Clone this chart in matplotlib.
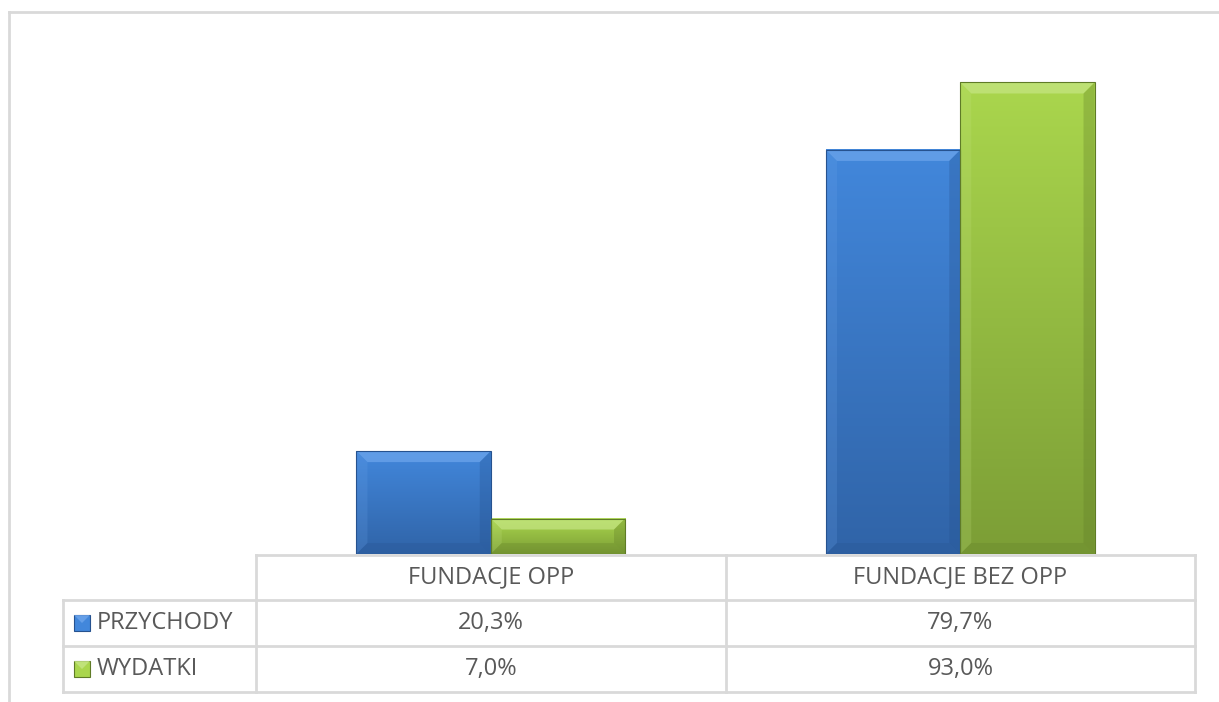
#bar chart with data table (fundacje OPP vs bez OPP)

#import packages
import numpy as np
import matplotlib.pyplot as plt
from matplotlib.patches import Polygon
from matplotlib.lines import Line2D

#data
categories = ['FUNDACJE OPP', 'FUNDACJE BEZ OPP']
series_names = ['PRZYCHODY', 'WYDATKI']
przychody = [20.3, 79.7]
wydatki = [7.0, 93.0]
przychody_labels = ['20,3%', '79,7%']
wydatki_labels = ['7,0%', '93,0%']

#styles
W, H = 1219, 702
grid_col = '#d9d9d9'
text_col = '#595959'
face = {'PRZYCHODY': ('#4287db', '#3064a8'), 'WYDATKI': ('#aad64d', '#7c9e36')}
light = {'PRZYCHODY': '#6ea6ec', 'WYDATKI': '#c6e685'}
dark = {'PRZYCHODY': '#26528f', 'WYDATKI': '#5f7b27'}
plt.rcParams['font.family'] = ['Open Sans', 'DejaVu Sans']

fig = plt.figure(figsize=(W / 100, H / 100), dpi=100)

def fx(px):
    return px / W

def fy(py):
    return 1 - py / H

#outer frame (only top and left visible)
fig.add_artist(Line2D([fx(9), 1], [fy(12), fy(12)], color=grid_col, lw=2))
fig.add_artist(Line2D([fx(9), fx(9)], [fy(12), 0], color=grid_col, lw=2))

#plot area
ax = fig.add_axes([fx(256), fy(554), fx(1195) - fx(256), fy(47) - fy(554)])
ax.set_xlim(-0.5, 1.5)
ax.set_ylim(0, 100)
ax.axis('off')

bar_w = 0.286
bev_px = 11
px_x = (1195 - 256) / 2.0   # pixels per x unit
px_y = (554 - 47) / 100.0   # pixels per y unit
bx = bev_px / px_x
by = bev_px / px_y


def hex2rgb(h):
    return np.array([int(h[i:i + 2], 16) / 255 for i in (1, 3, 5)])


def bevel_bar(x0, h, name):
    x1 = x0 + bar_w
    top, bot = hex2rgb(face[name][0]), hex2rgb(face[name][1])
    t = np.linspace(0, 1, 64)[:, None]
    grad = (top * (1 - t) + bot * t)[:, None, :]
    ax.imshow(grad, extent=[x0, x1, 0, h], aspect='auto', zorder=2,
              interpolation='bilinear')
    b_y = min(by, h / 2)
    # top bevel
    ax.add_patch(Polygon([(x0, h), (x1, h), (x1 - bx, h - b_y), (x0 + bx, h - b_y)],
                         closed=True, fc=light[name], ec='none', alpha=0.7, zorder=3))
    # left bevel
    ax.add_patch(Polygon([(x0, h), (x0 + bx, h - b_y), (x0 + bx, b_y), (x0, 0)],
                         closed=True, fc=light[name], ec='none', alpha=0.2, zorder=3))
    # right bevel
    ax.add_patch(Polygon([(x1, h), (x1 - bx, h - b_y), (x1 - bx, b_y), (x1, 0)],
                         closed=True, fc=dark[name], ec='none', alpha=0.3, zorder=3))
    # bottom bevel
    ax.add_patch(Polygon([(x0, 0), (x0 + bx, b_y), (x1 - bx, b_y), (x1, 0)],
                         closed=True, fc=dark[name], ec='none', alpha=0.25, zorder=3))
    ax.add_patch(plt.Rectangle((x0, 0), bar_w, h, fill=False, ec=dark[name],
                               lw=0.8, zorder=4))


for i in range(len(categories)):
    bevel_bar(i - bar_w, przychody[i], 'PRZYCHODY')
    bevel_bar(i, wydatki[i], 'WYDATKI')
ax.set_xlim(-0.5, 1.5)
ax.set_ylim(0, 100)

#data table
tab = fig.add_axes([0, 0, 1, 1], facecolor='none')
tab.set_xlim(0, W)
tab.set_ylim(H, 0)
tab.axis('off')

col_x = [63, 256, 726, 1195]
row_y = [555, 600, 646, 692]
lw = 2
# header row (no left cell)
tab.plot([256, 1195], [row_y[0], row_y[0]], color=grid_col, lw=lw)
for y in row_y[1:]:
    tab.plot([col_x[0], col_x[-1]], [y, y], color=grid_col, lw=lw)
tab.plot([col_x[0], col_x[0]], [row_y[1], row_y[-1]], color=grid_col, lw=lw)
for x in col_x[1:]:
    tab.plot([x, x], [row_y[0], row_y[-1]], color=grid_col, lw=lw)

fs = 17
for j, cat in enumerate(categories):
    cx = (col_x[j + 1] + col_x[j + 2]) / 2
    tab.text(cx, (row_y[0] + row_y[1]) / 2, cat, ha='center', va='center',
             color=text_col, fontsize=fs)
rows = [przychody_labels, wydatki_labels]
for r, name in enumerate(series_names):
    cy = (row_y[r + 1] + row_y[r + 2]) / 2
    tab.add_patch(plt.Rectangle((74, cy - 8), 16, 16, fc=face[name][0],
                                ec=dark[name], lw=0.8))
    tab.add_patch(Polygon([(74, cy - 8), (90, cy - 8), (82, cy)], closed=True,
                          fc=light[name], ec='none', alpha=0.8))
    tab.text(97, cy, name, ha='left', va='center', color=text_col, fontsize=fs)
    for j, lab in enumerate(rows[r]):
        cx = (col_x[j + 1] + col_x[j + 2]) / 2
        tab.text(cx, cy, lab, ha='center', va='center', color=text_col, fontsize=fs)

plt.savefig('out.png', dpi=100)
